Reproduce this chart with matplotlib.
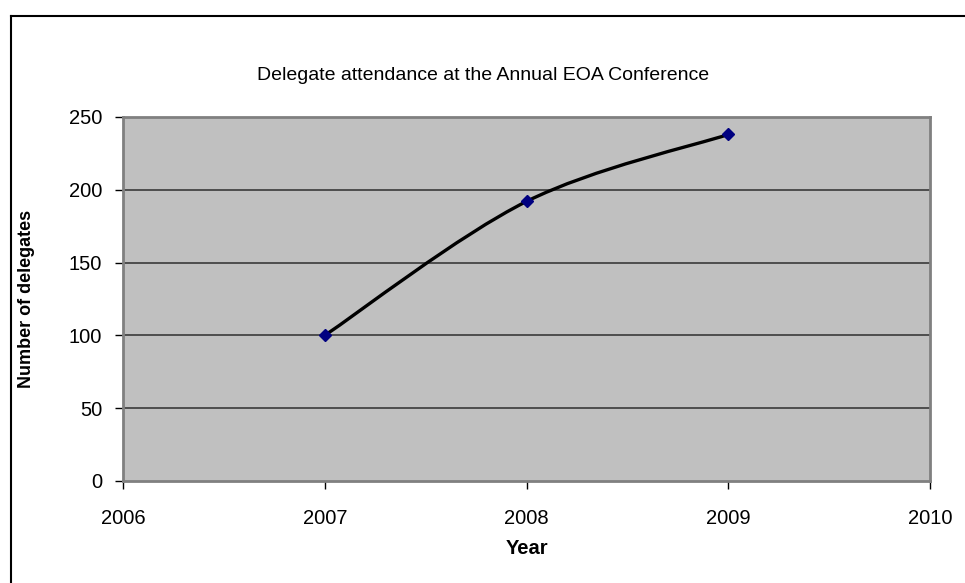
import matplotlib
matplotlib.use("Agg")
import matplotlib.pyplot as plt
from matplotlib.path import Path
from matplotlib.patches import PathPatch
from matplotlib.lines import Line2D

# データ
years = [2007, 2008, 2009]
delegates = [100, 192, 238]
x_ticks = [2006, 2007, 2008, 2009, 2010]
y_ticks = [0, 50, 100, 150, 200, 250]

plt.rcParams['font.family'] = ['Liberation Sans', 'DejaVu Sans']

fig = plt.figure(figsize=(9.65, 5.83), dpi=100)
ax = fig.add_axes([123 / 965, 1 - 481 / 583, 807 / 965, 364 / 583])
ax.set_facecolor('#c0c0c0')

# 外枠 (Excel風)
fig.add_artist(Line2D([11 / 965, 11 / 965], [0, 1 - 16 / 583], color='black', lw=1.5))
fig.add_artist(Line2D([11 / 965, 1], [1 - 16 / 583, 1 - 16 / 583], color='black', lw=1.5))

# 横グリッド
for y in y_ticks[1:]:
    ax.axhline(y, color='#3a3a3a', lw=1.2, zorder=1)

# Excelのスムージング線 (Catmull-Rom -> Bezier)
pts = list(zip(years, delegates))
ext = [pts[0]] + pts + [pts[-1]]
verts = [pts[0]]
codes = [Path.MOVETO]
for i in range(1, len(ext) - 2):
    p0, p1, p2, p3 = ext[i - 1], ext[i], ext[i + 1], ext[i + 2]
    c1 = (p1[0] + (p2[0] - p0[0]) / 6, p1[1] + (p2[1] - p0[1]) / 6)
    c2 = (p2[0] - (p3[0] - p1[0]) / 6, p2[1] - (p3[1] - p1[1]) / 6)
    verts += [c1, c2, p2]
    codes += [Path.CURVE4] * 3
ax.add_patch(PathPatch(Path(verts, codes), facecolor='none', edgecolor='black', lw=2.4, zorder=3))

ax.plot(years, delegates, linestyle='none', marker='D', markersize=6.5,
        color='#000080', zorder=4)

ax.set_xlim(2006, 2010)
ax.set_ylim(0, 250)
ax.set_xticks(x_ticks)
ax.set_yticks(y_ticks)
ax.tick_params(axis='both', direction='out', length=6, width=1, color='black',
               labelsize=14.5)
ax.tick_params(axis='y', pad=9)
ax.tick_params(axis='x', pad=14)

for side in ['top', 'right', 'left', 'bottom']:
    ax.spines[side].set_color('#808080')
    ax.spines[side].set_linewidth(2)

ax.set_xlabel('Year', fontsize=14.5, fontweight='bold', labelpad=8)
ax.set_ylabel('Number of delegates', fontsize=13, fontweight='bold', va='center')
ax.yaxis.set_label_coords((27 - 123) / 807, 0.5)
fig.text(483 / 965, 1 - 75 / 583, 'Delegate attendance at the Annual EOA Conference',
         ha='center', va='center', fontsize=14)

fig.savefig('out.png', dpi=100)
